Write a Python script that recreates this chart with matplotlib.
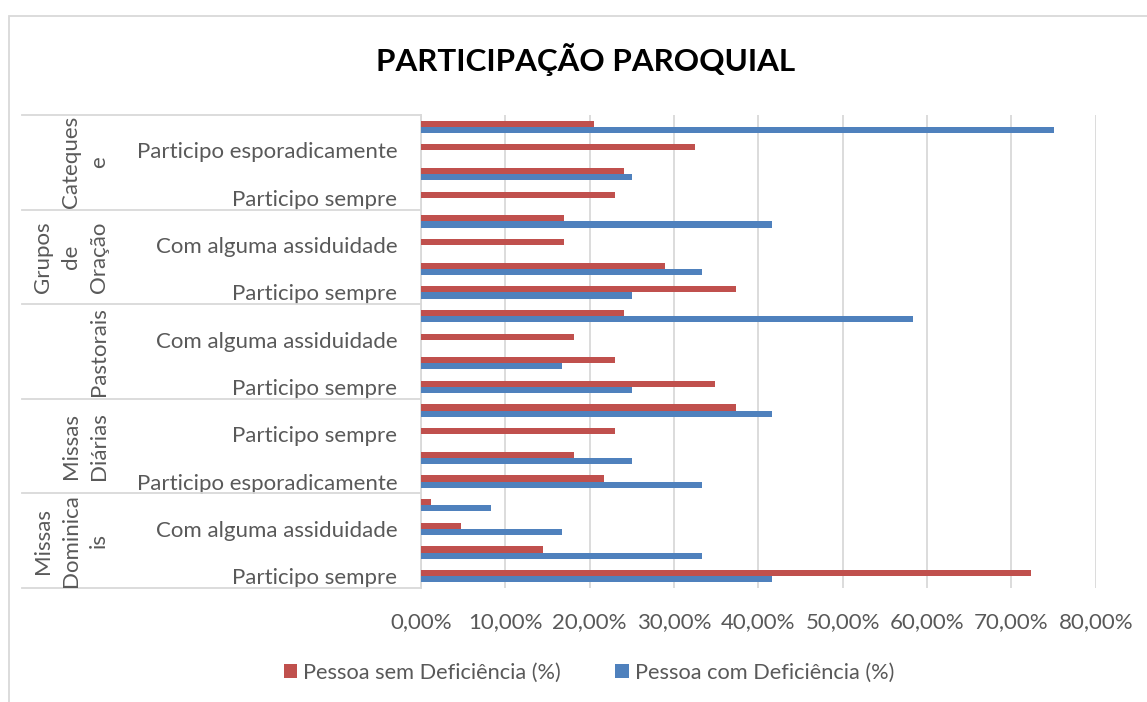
import matplotlib.pyplot as plt
import numpy as np
from matplotlib.transforms import blended_transform_factory
from matplotlib.patches import Rectangle

plt.rcParams['font.family'] = ['Lato', 'DejaVu Sans']

# grupos de cima para baixo
groups = ["Catequese", "Grupos de Oração", "Pastorais", "Missas Diárias", "Missas Dominicais"]
group_labels = ["Cateques\ne", "Grupos\nde\nOração", "Pastorais", "Missas\nDiárias", "Missas\nDominica\nis"]

# rótulos das categorias (de cima para baixo); o Excel só mostra um em cada dois
cat_labels = [
    "", "Participo esporadicamente", "", "Participo sempre",
    "", "Com alguma assiduidade", "", "Participo sempre",
    "", "Com alguma assiduidade", "", "Participo sempre",
    "", "Participo sempre", "", "Participo esporadicamente",
    "", "Com alguma assiduidade", "", "Participo sempre",
]

sem_def = [20.5, 32.5, 24.1, 23.0,
           16.9, 16.9, 28.9, 37.3,
           24.1, 18.1, 23.0, 34.9,
           37.3, 23.0, 18.1, 21.7,
           1.2, 4.8, 14.5, 72.3]
com_def = [75.0, 0, 25.0, 0,
           41.67, 0, 33.33, 25.0,
           58.33, 0, 16.67, 25.0,
           41.67, 0, 25.0, 33.33,
           8.33, 16.67, 33.33, 41.67]

x_ticks = [0, 10, 20, 30, 40, 50, 60, 70, 80]
x_tick_labels = ["0,00%", "10,00%", "20,00%", "30,00%", "40,00%", "50,00%", "60,00%", "70,00%", "80,00%"]

red = '#C0504D'
blue = '#4F81BD'
txt = '#595959'
grid = '#D9D9D9'
fs = 16

W, H = 1147, 702
fig = plt.figure(figsize=(W / 100, H / 100), dpi=100)
ax = fig.add_axes([421 / W, 1 - 588 / H, 674.7 / W, 473 / H])

n = len(cat_labels)
y = np.arange(n)[::-1]  # primeira categoria no topo
bh = 0.26
ax.barh(y + bh / 2, sem_def, height=bh, color=red, label="Pessoa sem Deficiência (%)", zorder=3)
ax.barh(y - bh / 2, com_def, height=bh, color=blue, label="Pessoa com Deficiência (%)", zorder=3)

ax.set_xlim(0, 80)
ax.set_ylim(-0.5, n - 0.5)
ax.set_xticks(x_ticks)
ax.set_xticklabels(x_tick_labels)
ax.set_yticks(y)
ax.set_yticklabels(cat_labels)
ax.tick_params(axis='both', length=0, colors=txt, labelsize=fs)
ax.tick_params(axis='x', pad=17)
ax.tick_params(axis='y', pad=17)
ax.xaxis.grid(True, color=grid, linewidth=1.3, zorder=0)
ax.set_axisbelow(True)
for s in ['top', 'right', 'bottom']:
    ax.spines[s].set_visible(False)
ax.spines['left'].set_color(grid)
ax.spines['left'].set_linewidth(1.3)

# linhas de separação dos grupos e rótulos dos grupos
tr = blended_transform_factory(fig.transFigure, ax.transData)
for k in range(len(groups) + 1):
    yy = n - 0.5 - 4 * k
    ax.plot([22 / W, 421 / W], [yy, yy], color=grid, linewidth=1.3, transform=tr, clip_on=False)
for k, lab in enumerate(group_labels):
    yc = n - 0.5 - 4 * k - 2
    ax.text(109 / W, yc, lab, transform=tr, rotation=90, ha='right', va='center',
            multialignment='center', fontsize=fs, color=txt, linespacing=1.5)

fig.text(586 / W, 1 - 60 / H, "PARTICIPAÇÃO PAROQUIAL", ha='center', va='center',
         fontsize=22.6, fontweight='bold', color='black')

leg = fig.legend(loc='center', bbox_to_anchor=(589 / W, 1 - 673 / H), ncol=2, frameon=False,
                 fontsize=15.7, handlelength=0.6, handleheight=0.6, handletextpad=0.3,
                 columnspacing=2.5)
for t in leg.get_texts():
    t.set_color(txt)

# moldura do gráfico
fig.patches.append(Rectangle((9 / W, -0.05), 1.2, 1 - 16 / H + 0.05, transform=fig.transFigure,
                             fill=False, edgecolor=grid, linewidth=1.3))

fig.savefig('out.png', dpi=100)
